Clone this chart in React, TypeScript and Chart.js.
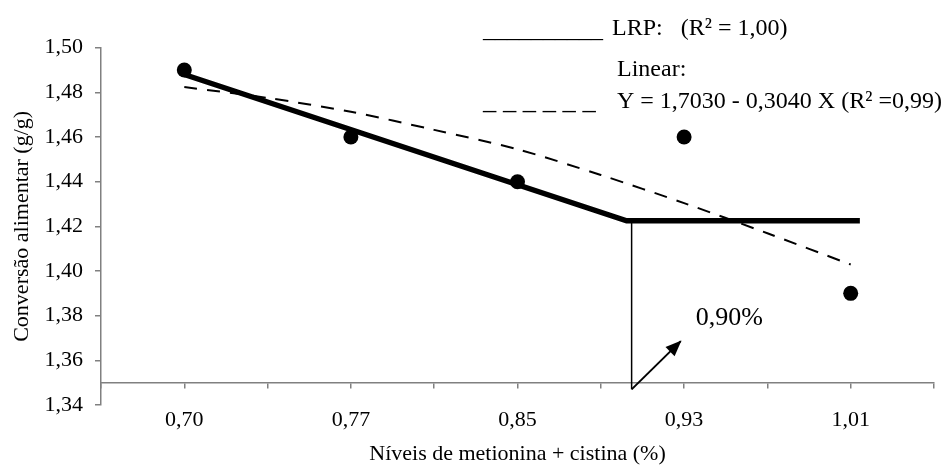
import React, { useEffect, useRef } from 'react';
import { Chart, registerables } from 'chart.js';

Chart.register(...registerables);

// ---- data ----
const xTickLabels = ['0,70', '0,77', '0,85', '0,93', '1,01'];
const levelPositions = [1, 3, 5, 7, 9];
const xTickValues = [0, 1, 2, 3, 4, 5, 6, 7, 8, 9, 10];
const yTickValues = [1.34, 1.36, 1.38, 1.4, 1.42, 1.44, 1.46, 1.48, 1.5];

const observed = [1.49, 1.46, 1.44, 1.46, 1.39];

const lrpX = [1, 6.31, 9.11];
const lrpY = [1.488, 1.4225, 1.4225];

const fitX = [1, 2, 3, 4, 5, 6, 7, 8, 9];
const fitY = [1.4824, 1.4775, 1.4713, 1.4632, 1.4545, 1.443, 1.4304, 1.4169, 1.4029];

const markerX = [6.37, 6.37];
const markerY = [1.4225, 1.347];

const arrowX = [6.37, 6.96];
const arrowY = [1.347, 1.3686];

const annotText = '0,90%';
const annotPos = [7.14, 1.3758];

const legendLines = [
  'LRP:   (R\u00B2 = 1,00)',
  'Linear:',
  'Y = 1,7030 - 0,3040 X (R\u00B2 =0,99)',
];

const FONT = '"Liberation Serif", "Times New Roman", serif';

const toPts = (xs: number[], ys: number[]) => xs.map((x, i) => ({ x, y: ys[i] }));

const annotPlugin = {
  id: 'annotPlugin',
  afterDatasetsDraw(chart: any) {
    const ctx = chart.ctx;
    const xs = chart.scales.x;
    const ys = chart.scales.y;
    ctx.save();
    // arrow head
    const meta = chart.getDatasetMeta(4);
    const p0 = meta.data[0];
    const p1 = meta.data[1];
    const ang = Math.atan2(p1.y - p0.y, p1.x - p0.x);
    const L = 15;
    const W = 6.5;
    const bx = p1.x - L * Math.cos(ang);
    const by = p1.y - L * Math.sin(ang);
    ctx.fillStyle = '#000';
    ctx.beginPath();
    ctx.moveTo(p1.x + 1 * Math.cos(ang), p1.y + 1 * Math.sin(ang));
    ctx.lineTo(bx + W * Math.sin(ang), by - W * Math.cos(ang));
    ctx.lineTo(bx - W * Math.sin(ang), by + W * Math.cos(ang));
    ctx.closePath();
    ctx.fill();

    // annotation
    ctx.textBaseline = 'alphabetic';
    ctx.textAlign = 'left';
    ctx.font = '26px ' + FONT;
    ctx.fillText(annotText, xs.getPixelForValue(annotPos[0]), ys.getPixelForValue(annotPos[1]));

    // legend
    ctx.font = '24px ' + FONT;
    ctx.fillText('__________', 483, 36.5);
    ctx.fillText(legendLines[0], 612, 35);
    ctx.fillText(legendLines[1], 617, 76);
    ctx.fillText(legendLines[2], 617, 108);
    ctx.font = '26.5px ' + FONT;
    ctx.fillText('_ _ _ _ _ _', 483, 109);
    ctx.restore();
  },
};

export default function App() {
  const ref = useRef<HTMLCanvasElement | null>(null);
  useEffect(() => {
    if (!ref.current) return;
    Chart.defaults.font.family = FONT;
    Chart.defaults.color = '#000';
    const axisGrey = '#808080';
    const chart = new Chart(ref.current, {
      type: 'scatter',
      data: {
        datasets: [
          {
            label: 'observed',
            data: toPts(levelPositions, observed),
            showLine: false,
            pointRadius: 7.5,
            pointBackgroundColor: '#000',
            pointBorderWidth: 0,
            order: 0,
          },
          {
            label: 'LRP',
            data: toPts(lrpX, lrpY),
            showLine: true,
            borderColor: '#000',
            borderWidth: 5.5,
            pointRadius: 0,
            borderJoinStyle: 'miter',
            order: 2,
          },
          {
            label: 'Linear',
            data: toPts(fitX, fitY),
            showLine: true,
            borderColor: '#000',
            borderWidth: 2,
            borderDash: [13, 10],
            tension: 0.3,
            pointRadius: 0,
            order: 3,
          },
          {
            label: 'marker',
            data: toPts(markerX, markerY),
            showLine: true,
            borderColor: '#000',
            borderWidth: 1.5,
            pointRadius: 0,
            order: 4,
          },
          {
            label: 'arrow',
            data: toPts(arrowX, arrowY),
            showLine: true,
            borderColor: '#000',
            borderWidth: 2,
            pointRadius: 0,
            order: 5,
          },
        ],
      },
      options: {
        responsive: false,
        animation: false,
        events: [],
        layout: { padding: { left: 0, right: 9, top: 47.7, bottom: 61 } },
        plugins: { legend: { display: false }, tooltip: { enabled: false } },
        scales: {
          x: {
            type: 'linear',
            min: 0,
            max: 10,
            position: { y: 1.35 } as any,
            afterBuildTicks: (s: any) => {
              s.ticks = xTickValues.map((v) => ({ value: v }));
            },
            afterFit: (s: any) => {
              s.height = 61;
              s.paddingLeft = 0;
              s.paddingRight = 0;
            },
            ticks: {
              autoSkip: false,
              maxRotation: 0,
              padding: 19,
              font: { size: 22, family: FONT },
              color: '#000',
              callback: (v: any) => {
                const i = levelPositions.indexOf(Number(v));
                return i >= 0 ? xTickLabels[i] : '';
              },
            },
            grid: {
              drawOnChartArea: false,
              drawTicks: true,
              tickLength: 5,
              color: axisGrey,
              lineWidth: 1.5,
            },
            border: { display: true, color: axisGrey, width: 1.5 },
            title: {
              display: true,
              text: 'Níveis de metionina + cistina (%)',
              font: { size: 22, family: FONT },
              color: '#000',
              padding: { top: 0, bottom: -24 },
            },
          },
          y: {
            type: 'linear',
            min: 1.34,
            max: 1.5,
            afterBuildTicks: (s: any) => {
              s.ticks = yTickValues.map((v) => ({ value: v }));
            },
            afterFit: (s: any) => {
              s.width = 101;
              s.paddingTop = 0;
              s.paddingBottom = 0;
            },
            ticks: {
              padding: 12,
              font: { size: 22, family: FONT },
              color: '#000',
              callback: (v: any) => Number(v).toFixed(2).replace('.', ','),
            },
            grid: {
              drawOnChartArea: false,
              drawTicks: true,
              tickLength: 6,
              color: axisGrey,
              lineWidth: 1.5,
            },
            border: { display: true, color: axisGrey, width: 1.5 },
            title: {
              display: true,
              text: 'Conversão alimentar (g/g)',
              font: { size: 22, family: FONT },
              color: '#000',
              padding: { top: 9, bottom: 0 },
            },
          },
        },
      },
      plugins: [annotPlugin],
    });
    return () => chart.destroy();
  }, []);
  return (
    <div style={{ position: 'absolute', left: 0, top: 0, width: 943, height: 466, background: '#fff' }}>
      <canvas ref={ref} width={943} height={466} style={{ display: 'block' }} />
    </div>
  );
}
